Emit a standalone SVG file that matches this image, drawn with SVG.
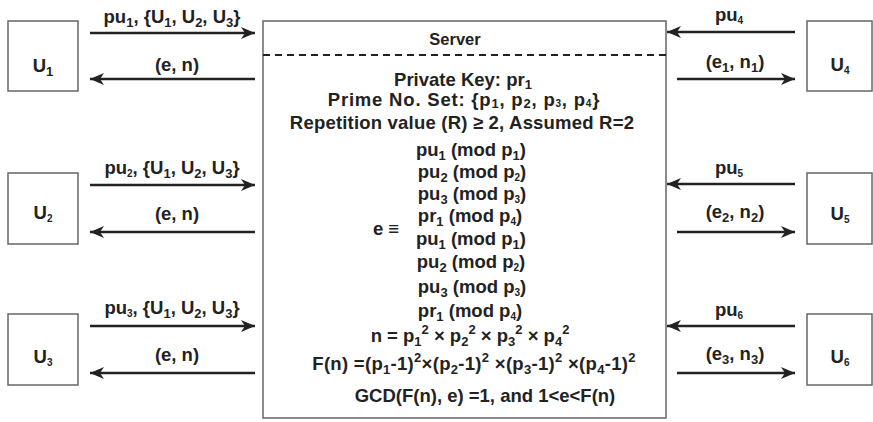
<svg xmlns="http://www.w3.org/2000/svg" width="873" height="422" viewBox="0 0 873 422">
<style>
text{font-family:"Liberation Sans",Arial,sans-serif;font-weight:bold;fill:#222;font-size:18.5px;text-anchor:middle}
.s{font-size:13px}
.t{font-size:10px}
.box{fill:#fff;stroke:#666;stroke-width:1.5}
.arr{stroke:#222;stroke-width:2.5;fill:none;marker-end:url(#ah)}
</style>
<defs>
<marker id="ah" markerUnits="userSpaceOnUse" markerWidth="16" markerHeight="14" refX="14" refY="6" orient="auto">
<path d="M0,0 L14,6 L0,12 L4,6 Z" fill="#222"/>
</marker>
</defs>
<rect width="873" height="422" fill="#fff"/>

<g id="server">
<rect class="box" x="263" y="21" width="403" height="397"/>
<line x1="263" y1="55" x2="666" y2="55" stroke="#222" stroke-width="2" stroke-dasharray="7,5"/>
<text x="455" y="45" style="font-size:16.5px">Server</text>
<text x="463" y="86">Private Key: pr<tspan class="s" dy="3">1</tspan></text>
<text x="464" y="106" style="letter-spacing:0.8px">Prime No. Set: {p<tspan class="s" dy="2">1</tspan><tspan dy="-2">, p</tspan><tspan class="s" dy="2">2</tspan><tspan dy="-2">, p</tspan><tspan class="t" dy="1">3</tspan><tspan dy="-1">, p</tspan><tspan class="t" dy="1">4</tspan><tspan dy="-1">}</tspan></text>
<text x="462" y="129" style="letter-spacing:0.2px">Repetition value (R) ≥ 2, Assumed R=2</text>
<text x="471" y="156">pu<tspan class="s" dy="4">1</tspan><tspan dy="-4"> (mod p</tspan><tspan class="s" dy="4">1</tspan><tspan dy="-4">)</tspan></text>
<text x="472" y="178">pu<tspan class="s" dy="4">2</tspan><tspan dy="-4"> (mod p</tspan><tspan class="t" dy="3">2</tspan><tspan dy="-3">)</tspan></text>
<text x="472" y="200">pu<tspan class="s" dy="4">3</tspan><tspan dy="-4"> (mod p</tspan><tspan class="t" dy="3">3</tspan><tspan dy="-3">)</tspan></text>
<text x="470" y="222">pr<tspan class="s" dy="4">1</tspan><tspan dy="-4"> (mod p</tspan><tspan class="t" dy="3">4</tspan><tspan dy="-3">)</tspan></text>
<text x="386" y="235">e ≡</text>
<text x="471" y="245">pu<tspan class="s" dy="4">1</tspan><tspan dy="-4"> (mod p</tspan><tspan class="s" dy="4">1</tspan><tspan dy="-4">)</tspan></text>
<text x="471" y="268">pu<tspan class="s" dy="4">2</tspan><tspan dy="-4"> (mod p</tspan><tspan class="t" dy="3">2</tspan><tspan dy="-3">)</tspan></text>
<text x="472" y="293">pu<tspan class="s" dy="4">3</tspan><tspan dy="-4"> (mod p</tspan><tspan class="t" dy="3">3</tspan><tspan dy="-3">)</tspan></text>
<text x="470" y="317">pr<tspan class="s" dy="4">1</tspan><tspan dy="-4"> (mod p</tspan><tspan class="t" dy="3">4</tspan><tspan dy="-3">)</tspan></text>
<text x="470" y="342">n = p<tspan class="s" dy="4">1</tspan><tspan class="s" dy="-12">2</tspan><tspan dy="8"> × p</tspan><tspan class="s" dy="4">2</tspan><tspan class="s" dy="-12">2</tspan><tspan dy="8"> × p</tspan><tspan class="s" dy="4">3</tspan><tspan class="s" dy="-12">2</tspan><tspan dy="8"> × p</tspan><tspan class="s" dy="4">4</tspan><tspan class="s" dy="-12">2</tspan></text>
<text x="474" y="370" style="letter-spacing:0.3px">F(n) =(p<tspan class="s" dy="4">1</tspan><tspan dy="-4">-1)</tspan><tspan class="s" dy="-8">2</tspan><tspan dy="8">×(p</tspan><tspan class="s" dy="4">2</tspan><tspan dy="-4">-1)</tspan><tspan class="s" dy="-8">2</tspan><tspan dy="8"> ×(p</tspan><tspan class="s" dy="4">3</tspan><tspan dy="-4">-1)</tspan><tspan class="s" dy="-8">2</tspan><tspan dy="8"> ×(p</tspan><tspan class="s" dy="4">4</tspan><tspan dy="-4">-1)</tspan><tspan class="s" dy="-8">2</tspan></text>
<text x="485" y="402">GCD(F(n), e) =1, and 1&lt;e&lt;F(n)</text>
</g>

<g id="U1"><rect class="box" x="8" y="21" width="70" height="70"/><text x="43" y="72">U<tspan class="s" dy="4">1</tspan></text></g>
<g id="U2"><rect class="box" x="8" y="173" width="70" height="71"/><text x="43" y="219">U<tspan class="t" dy="3">2</tspan></text></g>
<g id="U3"><rect class="box" x="8" y="314" width="70" height="71"/><text x="43" y="363">U<tspan class="t" dy="3">3</tspan></text></g>
<g id="U4"><rect class="box" x="807" y="21" width="65" height="70"/><text x="840" y="71">U<tspan class="t" dy="3">4</tspan></text></g>
<g id="U5"><rect class="box" x="807" y="173" width="65" height="71"/><text x="840" y="220">U<tspan class="t" dy="3">5</tspan></text></g>
<g id="U6"><rect class="box" x="807" y="314" width="65" height="71"/><text x="840" y="363">U<tspan class="t" dy="3">6</tspan></text></g>

<g id="connectors">
<line class="arr" x1="90" y1="33" x2="255" y2="33"/>
<line class="arr" x1="255" y1="79" x2="90" y2="79"/>
<line class="arr" x1="90" y1="185" x2="255" y2="185"/>
<line class="arr" x1="255" y1="232" x2="90" y2="232"/>
<line class="arr" x1="90" y1="326" x2="255" y2="326"/>
<line class="arr" x1="255" y1="373" x2="90" y2="373"/>
<line class="arr" x1="795" y1="32" x2="667" y2="32"/>
<line class="arr" x1="677" y1="79" x2="795" y2="79"/>
<line class="arr" x1="795" y1="184" x2="667" y2="184"/>
<line class="arr" x1="677" y1="232" x2="795" y2="232"/>
<line class="arr" x1="795" y1="326" x2="667" y2="326"/>
<line class="arr" x1="677" y1="373" x2="795" y2="373"/>
<text x="172" y="23">pu<tspan class="s" dy="4">1</tspan><tspan dy="-4">, {U</tspan><tspan class="s" dy="4">1</tspan><tspan dy="-4">, U</tspan><tspan class="s" dy="4">2</tspan><tspan dy="-4">, U</tspan><tspan class="s" dy="4">3</tspan><tspan dy="-4">}</tspan></text>
<text x="177" y="71">(e, n)</text>
<text x="172" y="174">pu<tspan class="t" dy="3">2</tspan><tspan dy="-3">, {U</tspan><tspan class="s" dy="4">1</tspan><tspan dy="-4">, U</tspan><tspan class="s" dy="4">2</tspan><tspan dy="-4">, U</tspan><tspan class="s" dy="4">3</tspan><tspan dy="-4">}</tspan></text>
<text x="177" y="220">(e, n)</text>
<text x="172" y="314">pu<tspan class="t" dy="3">3</tspan><tspan dy="-3">, {U</tspan><tspan class="s" dy="4">1</tspan><tspan dy="-4">, U</tspan><tspan class="s" dy="4">2</tspan><tspan dy="-4">, U</tspan><tspan class="s" dy="4">3</tspan><tspan dy="-4">}</tspan></text>
<text x="177" y="361">(e, n)</text>
<text x="729" y="21">pu<tspan class="t" dy="3">4</tspan></text>
<text x="735" y="68">(e<tspan class="s" dy="4">1</tspan><tspan dy="-4">, n</tspan><tspan class="s" dy="4">1</tspan><tspan dy="-4">)</tspan></text>
<text x="729" y="174">pu<tspan class="t" dy="3">5</tspan></text>
<text x="735" y="218">(e<tspan class="s" dy="4">2</tspan><tspan dy="-4">, n</tspan><tspan class="s" dy="4">2</tspan><tspan dy="-4">)</tspan></text>
<text x="729" y="316">pu<tspan class="t" dy="3">6</tspan></text>
<text x="735" y="360">(e<tspan class="s" dy="4">3</tspan><tspan dy="-4">, n</tspan><tspan class="s" dy="4">3</tspan><tspan dy="-4">)</tspan></text>
</g>
</svg>
